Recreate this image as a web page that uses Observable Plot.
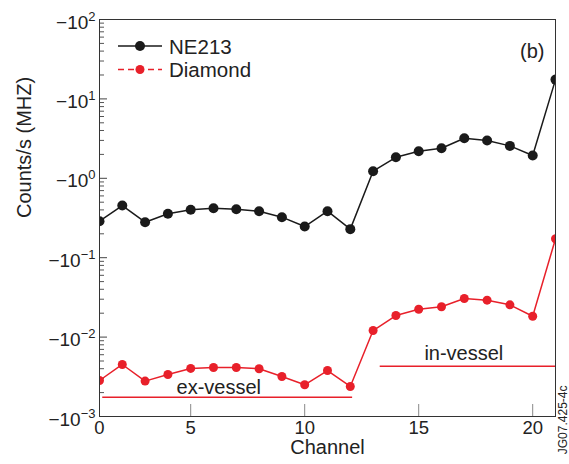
<!DOCTYPE html>
<html>
<head>
<meta charset="utf-8">
<script src="https://cdn.jsdelivr.net/npm/d3@7"></script>
<script src="https://cdn.jsdelivr.net/npm/@observablehq/plot@0.6"></script>
<style>
  body { margin: 0; background: white; }
  #wrap { position: relative; width: 569px; height: 464px; font-family: "Liberation Sans", Arial, sans-serif; }
  #legend { position: absolute; left: 0; top: 0; pointer-events: none; }
</style>
</head>
<body>
<div id="wrap"></div>
<script>
// ---- data ----
const channels = [1, 2, 3, 4, 5, 6, 7, 8, 9, 10, 11, 12, 13, 14, 15, 16, 17, 18, 19, 20, 21];
const ne213 = [0.288, 0.454, 0.280, 0.357, 0.401, 0.420, 0.408, 0.385, 0.324, 0.247, 0.385, 0.229,
               1.23, 1.84, 2.19, 2.39, 3.20, 2.99, 2.56, 1.94, 17.5];
const diamond = [0.00284, 0.00452, 0.00279, 0.00338, 0.00403, 0.00414, 0.00414, 0.00399, 0.00319, 0.00251, 0.00379, 0.00239,
                 0.0121, 0.0187, 0.0224, 0.0241, 0.0306, 0.0292, 0.0255, 0.0183, 0.173];
const seriesNames = ["NE213", "Diamond"];
const seriesColors = ["#1a1a1a", "#e8202a"];

const xTicks = [1, 5, 10, 15, 20];
const xTickLabels = ["0", "5", "10", "15", "20"];
const yTicks = [1e-3, 1e-2, 1e-1, 1e0, 1e1, 1e2];

const regionLabels = ["ex-vessel", "in-vessel"];
const regionStart = [1.12, 13.29];
const regionEnd = [12.08, 21];
const regionLevel = [0.00175, 0.0043];
const regionLabelX = [6.23, 16.98];
const regionLabelY = [0.00232, 0.0062];

const panelLabel = "(b)";
const figureId = "JG07.425-4c";

// ---- build tables ----
const rows = [];
channels.forEach((c, i) => {
  rows.push({channel: c, value: ne213[i], series: seriesNames[0]});
  rows.push({channel: c, value: diamond[i], series: seriesNames[1]});
});
const regions = regionLabels.map((l, i) => ({label: l, x1: regionStart[i], x2: regionEnd[i], y: regionLevel[i], lx: regionLabelX[i], ly: regionLabelY[i]}));

const minorTicks = [];
for (let k = -3; k < 2; k++) for (let m = 2; m <= 9; m++) minorTicks.push(m * Math.pow(10, k));

const W = 569, H = 464, mL = 99, mR = 14, mT = 19, mB = 48;
const fw = W - mL - mR, fh = H - mT - mB;
const color = d => seriesColors[seriesNames.indexOf(d)];

const plot = Plot.plot({
  width: W, height: H,
  marginLeft: mL, marginRight: mR, marginTop: mT, marginBottom: mB,
  style: {fontFamily: "Liberation Sans, Arial, sans-serif", background: "white", color: "#222", overflow: "visible"},
  x: {domain: [1, 21]},
  y: {type: "log", domain: [1e-3, 1e2]},
  marks: [
    Plot.tickY(minorTicks, {y: d => d, insetRight: fw - 5, stroke: "#555", strokeWidth: 1}),
    Plot.tickY(yTicks, {y: d => d, insetRight: fw - 8, stroke: "#444", strokeWidth: 1}),
    Plot.tickX(xTicks.slice(1), {x: d => d, insetTop: fh - 12, stroke: "#888", strokeWidth: 1}),
    Plot.axisX({ticks: xTicks, tickFormat: d => xTickLabels[xTicks.indexOf(d)], tickSize: 0, tickPadding: 4, fontSize: 18.5, label: null}),
    Plot.axisY({ticks: yTicks, tickFormat: d => { const e = Math.round(Math.log10(d)); return "\u221210^" + (e < 0 ? "\u2212" + (-e) : e); }, tickSize: 0, tickPadding: 4, fontSize: 19, label: null, dy: 3}),
    Plot.link(regions, {x1: "x1", x2: "x2", y1: "y", y2: "y", stroke: seriesColors[1], strokeWidth: 1.5}),
    Plot.text(regions, {x: "lx", y: "ly", text: "label", fontSize: 20, fill: "#222"}),
    Plot.line(rows, {x: "channel", y: "value", z: "series", stroke: d => color(d.series), strokeWidth: 1.5, clip: true}),
    Plot.dot(rows.filter(d => d.series === seriesNames[0]), {x: "channel", y: "value", r: 5, fill: seriesColors[0], clip: true}),
    Plot.dot(rows.filter(d => d.series === seriesNames[1]), {x: "channel", y: "value", r: 4.5, fill: seriesColors[1], clip: true}),
    Plot.frame({stroke: "#333", strokeWidth: 1}),
    Plot.text([panelLabel], {frameAnchor: "top-right", textAnchor: "end", dx: -11, dy: 24, fontSize: 20, fill: "#222"}),
    Plot.text([figureId], {frameAnchor: "bottom-right", rotate: -90, dx: 11, dy: -31, fontSize: 12, fill: "#222"}),
    Plot.text(["Counts/s (MHZ)"], {frameAnchor: "left", rotate: -90, dx: -75, fontSize: 20, fill: "#222"}),
    Plot.text(["Channel"], {frameAnchor: "bottom", dy: 37.5, fontSize: 20, fill: "#222"})
  ]
});

// superscript exponents on y tick labels
plot.querySelectorAll('g[aria-label="y-axis tick label"] text').forEach(t => {
  const s = t.textContent;
  const parts = s.split("^");
  if (parts.length !== 2) return;
  t.textContent = "";
  const ns = "http://www.w3.org/2000/svg";
  const a = document.createElementNS(ns, "tspan");
  a.textContent = parts[0];
  const b = document.createElementNS(ns, "tspan");
  b.textContent = parts[1];
  b.setAttribute("font-size", "13");
  b.setAttribute("dy", "-8");
  t.appendChild(a); t.appendChild(b);
});

const wrap = document.getElementById("wrap");
wrap.appendChild(plot);

// legend overlay
const lg = d3.select(wrap).append("svg").attr("id", "legend").attr("width", W).attr("height", 100);
const legendRows = seriesNames.map((n, i) => ({name: n, color: seriesColors[i], dash: i === 1 ? "6,4" : null, r: i === 0 ? 5 : 4.5}));
legendRows.forEach((d, i) => {
  const y = 46 + i * 23.5;
  lg.append("line").attr("x1", 118).attr("x2", 162).attr("y1", y).attr("y2", y)
    .attr("stroke", d.color).attr("stroke-width", 1.5).attr("stroke-dasharray", d.dash);
  lg.append("circle").attr("cx", 140).attr("cy", y).attr("r", d.r).attr("fill", d.color);
  lg.append("text").attr("x", 169).attr("y", y + 7.5).attr("font-size", 20.5)
    .attr("font-family", "Liberation Sans, Arial, sans-serif").attr("fill", "#222").text(d.name);
});
</script>
</body>
</html>
